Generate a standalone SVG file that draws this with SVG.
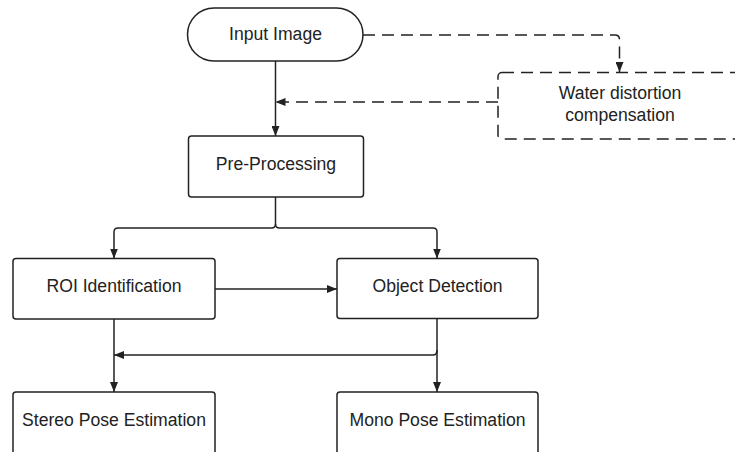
<svg xmlns="http://www.w3.org/2000/svg" width="735" height="452" viewBox="0 0 735 452">
  <defs>
    <marker id="arrow" viewBox="0 0 10 8" refX="10" refY="4" markerWidth="10" markerHeight="8" markerUnits="userSpaceOnUse" orient="auto">
      <path d="M0,0 L10,4 L0,8 Z" fill="#222"/>
    </marker>
  </defs>
  <style>
    .box { fill: #fff; stroke: #222; stroke-width: 1.5; }
    .dash { stroke-dasharray: 12 7; }
    .edge { fill: none; stroke: #222; stroke-width: 1.5; }
    .label { font-family: "Liberation Sans", Arial, sans-serif; font-size: 17.6px; fill: #222; text-anchor: middle; }
  </style>
  <rect width="735" height="452" fill="#fff"/>

  <g id="connectors">
    <!-- Input Image to Pre-Processing -->
    <path class="edge" d="M275.5,61 L275.5,136" marker-end="url(#arrow)"/>
    <!-- Input Image to compensation (dashed) -->
    <path class="edge dash" d="M363,35 L615,35 Q619.5,35 619.5,39.5 L619.5,72" marker-end="url(#arrow)"/>
    <!-- compensation back to main line (dashed) -->
    <path class="edge dash" d="M498,102 L275.5,102" marker-end="url(#arrow)"/>
    <!-- Pre-Processing split -->
    <path class="edge" d="M275.5,197 L275.5,224 Q275.5,228 271.5,228 L118,228 Q114,228 114,232 L114,258.5" marker-end="url(#arrow)"/>
    <path class="edge" d="M275.5,224 Q275.5,228 279.5,228 L433,228 Q437,228 437,232 L437,258.5" marker-end="url(#arrow)"/>
    <!-- ROI to Object Detection -->
    <path class="edge" d="M215,289 L337,289" marker-end="url(#arrow)"/>
    <!-- ROI to Stereo -->
    <path class="edge" d="M114,319 L114,392" marker-end="url(#arrow)"/>
    <!-- Object Detection to Mono -->
    <path class="edge" d="M437,318 L437,392" marker-end="url(#arrow)"/>
    <!-- Object Detection to Stereo branch -->
    <path class="edge" d="M437,350 Q437,355 433,355 L114,355" marker-end="url(#arrow)"/>
  </g>

  <g id="input-image">
    <rect class="box" x="187.5" y="8" width="175.5" height="53" rx="26.5" ry="26.5"/>
    <text class="label" x="275.5" y="39.5">Input Image</text>
  </g>

  <g id="water-distortion">
    <rect class="box dash" x="498" y="72.5" width="246" height="66.5" rx="4" ry="4"/>
    <text class="label" x="620" y="99">Water distortion</text>
    <text class="label" x="620" y="120.5">compensation</text>
  </g>

  <g id="pre-processing">
    <rect class="box" x="188.5" y="136" width="175" height="61" rx="3" ry="3"/>
    <text class="label" x="276" y="170">Pre-Processing</text>
  </g>

  <g id="roi-identification">
    <rect class="box" x="13" y="258.5" width="202" height="60.5" rx="3" ry="3"/>
    <text class="label" x="114" y="292">ROI Identification</text>
  </g>

  <g id="object-detection">
    <rect class="box" x="337" y="258.5" width="201" height="60" rx="3" ry="3"/>
    <text class="label" x="437.5" y="292">Object Detection</text>
  </g>

  <g id="stereo-pose">
    <rect class="box" x="13" y="392" width="202" height="70" rx="3" ry="3"/>
    <text class="label" x="114" y="426">Stereo Pose Estimation</text>
  </g>

  <g id="mono-pose">
    <rect class="box" x="337" y="392" width="201" height="70" rx="3" ry="3"/>
    <text class="label" x="437.5" y="426">Mono Pose Estimation</text>
  </g>
</svg>
